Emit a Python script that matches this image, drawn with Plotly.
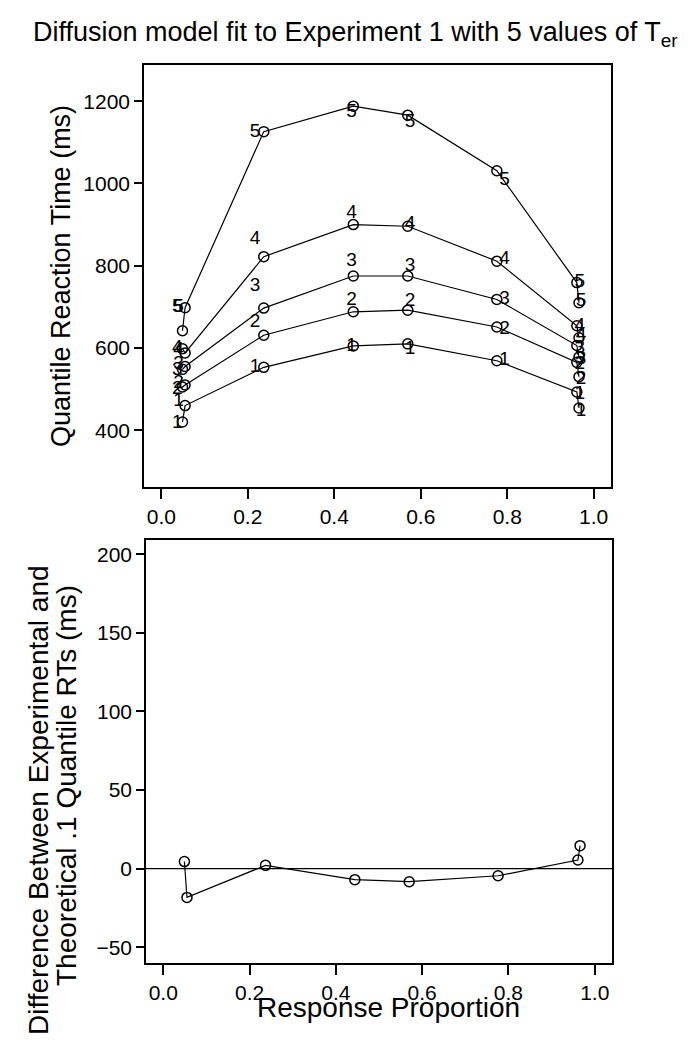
import plotly.graph_objects as go

# ---------------- data ----------------
cond_x = [0.049, 0.055, 0.237, 0.444, 0.570, 0.776, 0.961, 0.966]
theory_x = [0.037, 0.040, 0.217, 0.440, 0.575, 0.794, 0.968, 0.971]

data_q1 = [420, 460, 553, 605, 610, 569, 493, 454]
data_q2 = [505, 510, 631, 688, 692, 651, 565, 530]
data_q3 = [548, 555, 697, 775, 775, 718, 606, 578]
data_q4 = [598, 588, 822, 900, 896, 811, 654, 625]
data_q5 = [642, 698, 1126, 1188, 1166, 1031, 759, 710]

theory_q1 = [416, 470, 553, 603, 598, 569, 488, 445]
theory_q2 = [500, 515, 662, 715, 714, 646, 560, 525]
theory_q3 = [545, 560, 751, 811, 799, 718, 600, 572]
theory_q4 = [600, 595, 864, 928, 900, 815, 654, 630]
theory_q5 = [698, 700, 1125, 1174, 1150, 1009, 759, 714]

diff_q1 = [4.5, -18.3, 2.1, -7.0, -8.3, -4.5, 5.5, 14.6]

quantile_labels = ["1", "2", "3", "4", "5"]
x_ticks = [0.0, 0.2, 0.4, 0.6, 0.8, 1.0]
x_ticktext = ["0.0", "0.2", "0.4", "0.6", "0.8", "1.0"]
top_y_ticks = [400, 600, 800, 1000, 1200]
bot_y_ticks = [-50, 0, 50, 100, 150, 200]

title_text = "Diffusion model fit to Experiment 1 with 5 values of T<sub>er</sub>"
top_ytitle = "Quantile Reaction Time (ms)"
bot_ytitle1 = "Difference Between Experimental and"
bot_ytitle2 = "Theoretical .1 Quantile RTs (ms)"
xtitle = "Response Proportion"

# ---------------- figure ----------------
W, H = 694, 1050
FONT = "Liberation Sans, Arial, Helvetica, sans-serif"

def px_x(p):
    return p / W

def px_y(p):
    return 1 - p / H

fig = go.Figure()

data_sets = [data_q1, data_q2, data_q3, data_q4, data_q5]
theory_sets = [theory_q1, theory_q2, theory_q3, theory_q4, theory_q5]

for q, (d, t) in enumerate(zip(data_sets, theory_sets)):
    fig.add_trace(go.Scatter(
        x=cond_x, y=d, mode="lines+markers",
        line=dict(color="black", width=1.2),
        marker=dict(symbol="circle-open", size=10, color="black",
                    line=dict(width=1.5, color="black")),
        xaxis="x", yaxis="y", showlegend=False, hoverinfo="skip"))
    fig.add_trace(go.Scatter(
        x=theory_x, y=t, mode="text",
        text=[quantile_labels[q]] * len(t),
        textposition="middle center",
        textfont=dict(family=FONT, size=19, color="black"),
        xaxis="x", yaxis="y", showlegend=False, hoverinfo="skip"))

fig.add_trace(go.Scatter(
    x=cond_x, y=diff_q1, mode="lines+markers",
    line=dict(color="black", width=1.2),
    marker=dict(symbol="circle-open", size=10, color="black",
                line=dict(width=1.5, color="black")),
    xaxis="x2", yaxis="y2", showlegend=False, hoverinfo="skip"))

axis_common = dict(
    showline=True, mirror=True, linecolor="black", linewidth=1.6,
    ticks="outside", tickcolor="black", tickwidth=1.5,
    showgrid=False, zeroline=False,
    tickfont=dict(family=FONT, size=21, color="black"),
)

fig.update_layout(
    width=W, height=H,
    margin=dict(l=0, r=0, t=0, b=0),
    paper_bgcolor="white", plot_bgcolor="white",
    font=dict(family=FONT, color="black"),
    xaxis=dict(domain=[px_x(144), px_x(611)], range=[-0.04, 1.04],
               tickvals=x_ticks, ticktext=x_ticktext, ticklen=10,
               anchor="y", **axis_common),
    yaxis=dict(domain=[px_y(487), px_y(65)], range=[262, 1288],
               tickvals=top_y_ticks, ticklen=8, anchor="x", **axis_common),
    xaxis2=dict(domain=[px_x(146), px_x(612)], range=[-0.04, 1.04],
                tickvals=x_ticks, ticktext=x_ticktext, ticklen=10,
                anchor="y2", **axis_common),
    yaxis2=dict(domain=[px_y(963), px_y(540)], range=[-60, 209],
                tickvals=bot_y_ticks, ticklen=8, anchor="x2", **axis_common),
    shapes=[dict(type="line", xref="x2", yref="y2", x0=-0.04, x1=1.04,
                 y0=0, y1=0, line=dict(color="black", width=1.2))],
    annotations=[
        dict(text=title_text, xref="paper", yref="paper",
             x=px_x(355), y=px_y(34), xanchor="center", yanchor="middle",
             showarrow=False, font=dict(family=FONT, size=27, color="black")),
        dict(text=top_ytitle, xref="paper", yref="paper",
             x=px_x(61), y=px_y(276), xanchor="center", yanchor="middle",
             textangle=-90, showarrow=False,
             font=dict(family=FONT, size=27, color="black")),
        dict(text=bot_ytitle1, xref="paper", yref="paper",
             x=px_x(38), y=px_y(800), xanchor="center", yanchor="middle",
             textangle=-90, showarrow=False,
             font=dict(family=FONT, size=28, color="black")),
        dict(text=bot_ytitle2, xref="paper", yref="paper",
             x=px_x(66), y=px_y(786), xanchor="center", yanchor="middle",
             textangle=-90, showarrow=False,
             font=dict(family=FONT, size=28, color="black")),
        dict(text=xtitle, xref="paper", yref="paper",
             x=px_x(388), y=px_y(1007), xanchor="center", yanchor="middle",
             showarrow=False, font=dict(family=FONT, size=28, color="black")),
    ],
)

fig.write_html(
    "out.html",
    config={"displayModeBar": False},
    post_script="document.body.style.margin='0px';document.body.style.padding='0px';",
)
